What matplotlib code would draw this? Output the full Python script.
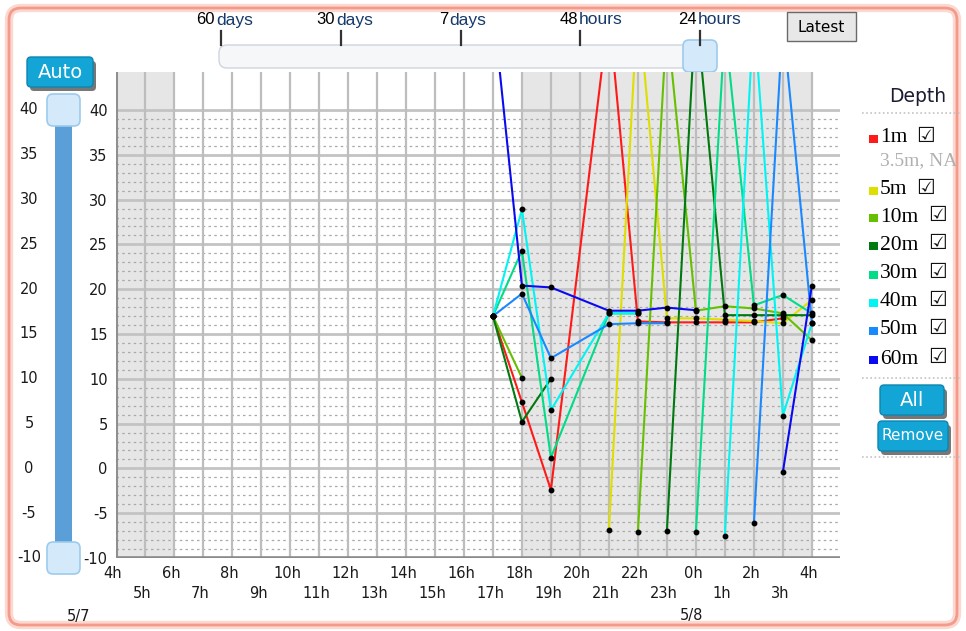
import numpy as np
import matplotlib.pyplot as plt
from matplotlib.patches import FancyBboxPatch, Rectangle

plt.rcParams['font.family'] = ['DejaVu Sans']

# === Data ===
# hours counted from 4h on 5/7 -> 17h,18h,19h,21h,22h,23h,0h,1h,2h,3h,4h
hours = [13, 14, 15, 17, 18, 19, 20, 21, 22, 23, 24]
nan = np.nan
temp_1m = [17.0, 7.4, -2.4, 51.0, 16.4, 16.3, 16.3, 16.3, 16.3, 16.75, nan]
temp_5m = [nan, nan, nan, -6.9, 52.3, 16.75, 16.75, 16.6, 16.45, 16.2, 18.8]
temp_10m = [17.0, 10.1, nan, nan, -7.1, 50.0, 17.6, 18.1, 17.85, 17.3, 14.3]
temp_20m = [17.0, 5.2, 10.0, nan, nan, -7.0, 51.6, 17.1, 17.1, 17.1, 17.1]
temp_30m = [17.0, 24.3, 1.2, 17.3, 17.3, nan, -7.1, 49.4, 18.2, 19.35, 17.3]
temp_40m = [17.0, 28.9, 6.5, 17.3, 17.3, nan, nan, -7.5, 50.8, 5.9, 16.2]
temp_50m = [17.0, 19.5, 12.3, 16.1, 16.2, 16.2, nan, nan, -6.1, 49.9, 16.2]
temp_60m = [51.7, 20.4, 20.2, 17.6, 17.6, 17.95, 17.65, nan, nan, -0.4, 20.4]

depth_labels = ['1m', '5m', '10m', '20m', '30m', '40m', '50m', '60m']
depth_colors = ['#ff1a1a', '#dede00', '#66c000', '#007a10', '#00dc88',
                '#00f4f4', '#1a88ff', '#0a0af0']
series = [temp_1m, temp_5m, temp_10m, temp_20m, temp_30m, temp_40m, temp_50m, temp_60m]

range_ticks = ['60', '30', '7', '48', '24']
range_units = ['days', 'days', 'days', 'hours', 'hours']
y_ticks = [40, 35, 30, 25, 20, 15, 10, 5, 0, -5, -10]

# === Figure ===
W, H = 966, 631
fig = plt.figure(figsize=(W / 100, H / 100), dpi=100)

# background / UI layer in pixel coordinates
bg = fig.add_axes([0, 0, 1, 1], zorder=0)
bg.set_xlim(0, W)
bg.set_ylim(H, 0)
bg.axis('off')

bg.add_patch(FancyBboxPatch((9, 8), 948, 617, boxstyle="round,pad=0,rounding_size=12",
                            fc='white', ec='#fcd8d0', lw=6))
bg.add_patch(FancyBboxPatch((9, 8), 948, 617, boxstyle="round,pad=0,rounding_size=12",
                            fc='none', ec='#f39a8a', lw=2))

# top range slider
bg.add_patch(FancyBboxPatch((219, 45), 493, 23, boxstyle="round,pad=0,rounding_size=8",
                            fc='#f5f7f9', ec='#cdd5dd', lw=1))
tick_px = [221, 341, 461, 580, 700]
junction_off = [-6, -6, -13, -2, -3]
for x, num, unit, off in zip(tick_px, range_ticks, range_units, junction_off):
    bg.plot([x, x], [31, 45], color='#333333', lw=1.6)
    bg.text(x + off, 20, num, ha='right', va='center', fontsize=12,
            family='Liberation Sans', color='black')
    bg.text(x + off + 1, 20, unit, ha='left', va='center', fontsize=12.5,
            family='Liberation Sans', color='#163a6b')
bg.add_patch(FancyBboxPatch((683, 40), 34, 32, boxstyle="round,pad=0,rounding_size=6",
                            fc='#d4e9f9', ec='#9ccbee', lw=1.2))

# Latest button
bg.add_patch(Rectangle((787, 12), 69, 29, fc='#e8e8e8', ec='#6a6a6a', lw=1))
bg.text(821.5, 27, 'Latest', ha='center', va='center', fontsize=11)

# Auto button
bg.add_patch(FancyBboxPatch((30, 61), 66, 30, boxstyle="round,pad=0,rounding_size=4",
                            fc='#4a4a4a', ec='none', alpha=0.75))
bg.add_patch(FancyBboxPatch((27, 57), 66, 30, boxstyle="round,pad=0,rounding_size=4",
                            fc='#13a5d5', ec='#0c86b0', lw=1))
bg.text(60, 72, 'Auto', ha='center', va='center', fontsize=14, color='white')

# left vertical slider
bg.add_patch(Rectangle((55, 110), 17, 448, fc='#5a9fd8', ec='none'))
for cy in (110, 558):
    bg.add_patch(FancyBboxPatch((47, cy - 16), 33, 32, boxstyle="round,pad=0,rounding_size=6",
                                fc='#d4e9f9', ec='#9ccbee', lw=1.2))

# === Main chart ===
left, right, top, bottom = 116, 840, 72, 558
ax = fig.add_axes([left / W, 1 - bottom / H, (right - left) / W, (bottom - top) / H], zorder=1)
ax.set_xlim(0, 24.97)
ax.set_ylim(-10, 40 + (110 - top) / 8.96)
for s in ax.spines.values():
    s.set_visible(False)
ax.set_facecolor('white')

# night shading
ax.axvspan(0, 2, color='#e6e6e6', lw=0, zorder=0)
ax.axvspan(14, 24, color='#e6e6e6', lw=0, zorder=0)

# grid
for v in range(-9, 40):
    if v % 5:
        ax.axhline(v, color='#a9a9a9', lw=0.9, ls=(0, (2, 2.6)), zorder=1)
for v in range(-5, 41, 5):
    ax.axhline(v, color='#c3c3c3', lw=2, zorder=1)
for h in range(25):
    ax.axvline(h, color='#bdbdbd', lw=1.6, zorder=1)
ax.axvline(0, color='#8f8f8f', lw=2.2, zorder=2)
ax.axhline(-10, color='#8a8a8a', lw=2.6, zorder=2)

# series
for vals, col in zip(series, depth_colors):
    ax.plot(hours, vals, color=col, lw=1.5, zorder=3)
for vals in series:
    ax.plot(hours, vals, 'o', color='black', ms=3.2, zorder=4)

ax.set_xticks([])
ax.set_yticks(y_ticks)
ax.set_yticklabels([str(v) for v in y_ticks], fontsize=10.5, color='#1a1a1a')
ax.tick_params(axis='y', length=0, pad=6)

for h in range(25):
    row = h % 2
    ax.text(h - 0.1, -0.031 - row * 0.042, f"{(4 + h) % 24}h",
            transform=ax.get_xaxis_transform(), ha='center', va='center',
            fontsize=10.5, color='#1a1a1a')
ax.text(20 - 0.15, -0.119, '5/8', transform=ax.get_xaxis_transform(),
        ha='center', va='center', fontsize=10.5, color='#1a1a1a')
bg.text(79, 616, '5/7', ha='center', va='center', fontsize=10.5, color='#1a1a1a')

# slider labels share the main y scale
sax = fig.add_axes([0, 1 - bottom / H, left / W, (bottom - top) / H], zorder=2)
sax.set_xlim(0, left)
sax.set_ylim(ax.get_ylim())
sax.axis('off')
for v in y_ticks:
    sax.text(29, v, str(v), ha='center', va='center', fontsize=10.5, color='#1a1a1a')

# === Depth legend panel ===
bg.text(918, 97, 'Depth', ha='center', va='center', fontsize=13.5, color='#1b1b33')
for yy in (113, 378, 457):
    bg.plot([862, 962], [yy, yy], ls=(0, (1, 1.5)), color='#c4c4c4', lw=1.2)

legend_y = [138, 190, 217, 245, 274, 302, 330, 359]
for lab, col, yy in zip(depth_labels, depth_colors, legend_y):
    bg.add_patch(Rectangle((869, yy - 3), 9, 8, fc=col, ec='none'))
    bg.text(880, yy, lab, ha='left', va='center', fontsize=15.5,
            family='Liberation Serif', color='black')
    cx = 925 if len(lab) == 2 else 937
    bg.text(cx, yy - 2, '\u2611', ha='center', va='center', fontsize=15, color='#111111')
bg.text(880, 161, '3.5m, NA', ha='left', va='center', fontsize=14,
        family='Liberation Serif', color='#b0b0b0')

for (x0, y0, w, h, lab, fs) in [(880, 385, 64, 30, 'All', 14), (878, 421, 70, 30, 'Remove', 11)]:
    bg.add_patch(FancyBboxPatch((x0 + 3, y0 + 4), w, h, boxstyle="round,pad=0,rounding_size=4",
                                fc='#4a4a4a', ec='none', alpha=0.75))
    bg.add_patch(FancyBboxPatch((x0, y0), w, h, boxstyle="round,pad=0,rounding_size=4",
                                fc='#13a5d5', ec='#0c86b0', lw=1))
    bg.text(x0 + w / 2, y0 + h / 2, lab, ha='center', va='center', fontsize=fs, color='white')

fig.savefig('out.png', dpi=100)
